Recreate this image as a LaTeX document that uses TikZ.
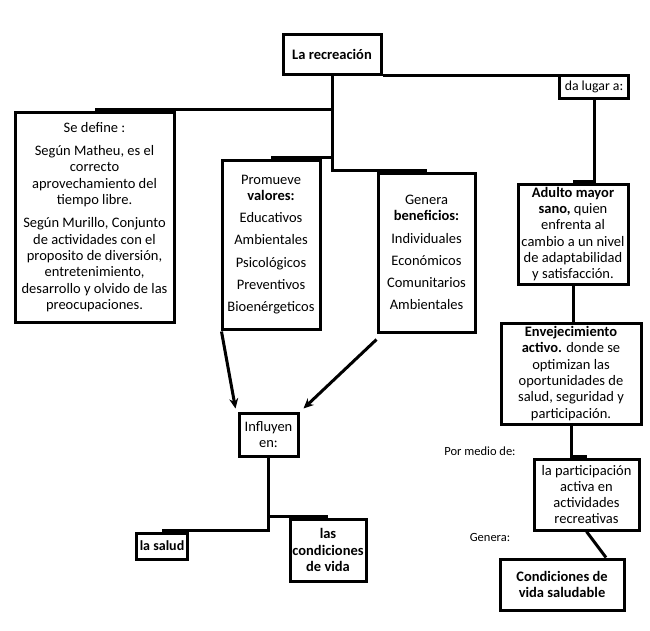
\documentclass[tikz,border=0pt]{standalone}
\usepackage{fontspec}
\setmainfont{Carlito}
\usetikzlibrary{arrows.meta}
\begin{document}
\begin{tikzpicture}[x=1pt,y=-1pt,
    caja/.style={draw,line width=3pt,align=center,inner sep=0pt,font=\fontsize{14.5}{16.3}\selectfont},
    negrita/.style={font=\fontsize{14.5}{16.3}\selectfont\bfseries},
    linea/.style={line width=3pt},
    flecha/.style={line width=3pt,-{Stealth[length=10pt,width=9pt]}},
    nota/.style={font=\fontsize{12.5}{14}\selectfont}]
    \useasboundingbox[fill=white] (0,0) rectangle (650,630);
    % cajas
    \node[caja,negrita,minimum width=98pt,minimum height=40pt] (rec) at (332,54) {La recreación};
    \node[caja,minimum width=69pt,minimum height=23pt,font=\fontsize{13.8}{16}\selectfont] (dalugar) at (594,86.5) {da lugar a:};
    \node[caja,minimum width=159pt,minimum height=210pt] (define) at (94.5,217) {Se define :\\[7pt]
        Según Matheu, es el\\correcto\\aprovechamiento del\\tiempo libre.\\[7pt]
        Según Murillo, Conjunto\\de actividades con el\\proposito de diversión,\\entretenimiento,\\desarrollo y olvido de las\\preocupaciones.};
    \node[caja,minimum width=98pt,minimum height=169pt] (valores) at (271,244.5) {Promueve\\\textbf{valores:}\\[6pt]
        Educativos\\[6pt]Ambientales\\[6pt]Psicológicos\\[6pt]Preventivos\\[6pt]Bioenérgeticos};
    \node[caja,minimum width=97pt,minimum height=159pt] (beneficios) at (426.5,252.5) {Genera\\\textbf{beneficios:}\\[6pt]
        Individuales\\[6pt]Económicos\\[6pt]Comunitarios\\[6pt]Ambientales};
    \node[caja,minimum width=110pt,minimum height=100pt] (adulto) at (573,234) {\textbf{Adulto mayor}\\\textbf{sano,} quien\\enfrenta al\\cambio a un nivel\\de adaptabilidad\\y satisfacción.};
    \node[caja,minimum width=140pt,minimum height=101pt] (envejec) at (571,373.5) {\textbf{Envejecimiento}\\\textbf{activo.} donde se\\optimizan las\\oportunidades de\\salud, seguridad y\\participación.};
    \node[caja,minimum width=59pt,minimum height=43pt] (influyen) at (268.5,434.5) {Influyen\\en:};
    \node[caja,negrita,minimum width=51pt,minimum height=26pt,font=\fontsize{14}{16}\selectfont\bfseries] (salud) at (162,546) {la salud};
    \node[caja,negrita,minimum width=76pt,minimum height=62pt] (condic) at (328,550) {las\\condiciones\\de vida};
    \node[caja,minimum width=105pt,minimum height=71pt] (particip) at (586.5,494.5) {la participación\\activa en\\actividades\\recreativas};
    \node[caja,negrita,minimum width=124pt,minimum height=51pt] (saludable) at (562,584.5) {Condiciones de\\vida saludable};
    % textos sueltos
    \node[nota] (pormedio) at (480,451) {Por medio de:};
    \node[nota] (genera) at (490,537) {Genera:};
    % conectores
    \draw[linea] (rec.south) |- ([yshift=1.5pt]define.north);
    \draw[linea] (rec.south) |- ([yshift=1.5pt]valores.north);
    \draw[linea] (rec.south) |- ([yshift=1.5pt]beneficios.north);
    \draw[linea] (rec.south east) -- (rec.south east -| dalugar.west);
    \draw[linea] (dalugar.south) |- ([yshift=1.5pt]adulto.north);
    \draw[linea] (adulto.south) -- (adulto.south |- envejec.north);
    \draw[linea] (envejec.south) |- ([yshift=1.5pt]particip.north);
    \draw[linea] (particip.south) -- ([xshift=44pt]saludable.north);
    \draw[flecha] ([xshift=1pt,yshift=-1pt]valores.south west) -- ([xshift=-2pt,yshift=3pt]influyen.north west);
    \draw[flecha] ([yshift=-6pt]beneficios.south west) -- ([xshift=4pt,yshift=3pt]influyen.north east);
    \draw[linea] (influyen.south) |- ([yshift=1.5pt]salud.north);
    \draw[linea] (influyen.south) |- ([yshift=1.5pt]condic.north);
\end{tikzpicture}
\end{document}
